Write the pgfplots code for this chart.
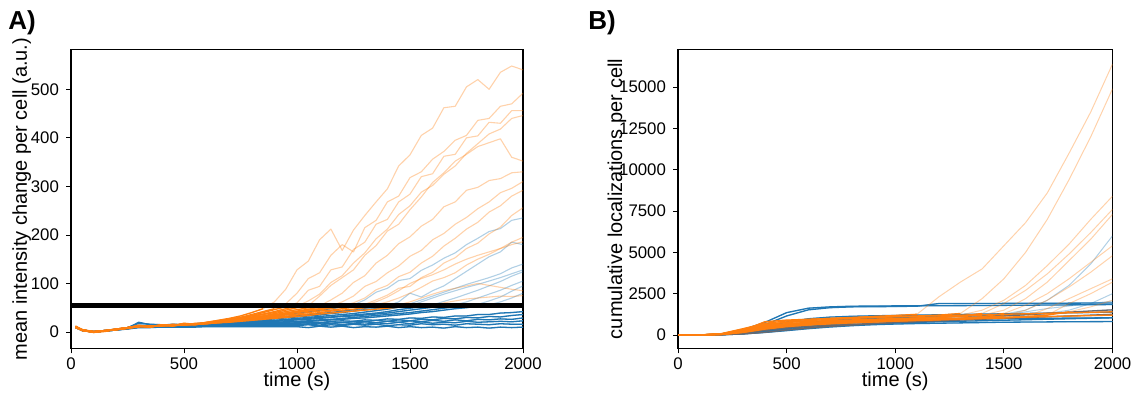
\documentclass[border=0pt]{standalone}
\usepackage{pgfplots}
\usepackage{pgfplotstable}
\pgfplotsset{compat=1.18}
\usepackage{fontspec}
\setmainfont{Liberation Sans}
\definecolor{tabblue}{RGB}{31,119,180}
\definecolor{taborange}{RGB}{255,127,14}
\definecolor{tabgray}{RGB}{105,105,110}

% Panel A: one row per cell, one column per time point
\pgfplotstableread{
name a0 a1 a2 a3 a4 a5 a6 a7 a8 a9 a10 a11 a12 a13 a14 a15 a16 a17 a18 a19 a20 a21 a22 a23 a24 a25 a26 a27 a28 a29 a30 a31 a32 a33 a34 a35 a36 a37 a38 a39 a40
t 20 50 100 150 200 250 300 350 400 450 500 550 600 650 700 750 800 850 900 950 1000 1050 1100 1150 1200 1250 1300 1350 1400 1450 1500 1550 1600 1650 1700 1750 1800 1850 1900 1950 2000
O1 12 3 -1 3 6 9 14 11 15 13 18 16 20 24 28 33 40 48 62 88 128 146 190 212 168 210 240 268 295 342 365 405 420 462 465 505 520 500 535 548 540
O2 10 4 1 2 5 8 12 10 14 12 16 15 19 22 26 30 36 42 48 58 80 110 122 158 180 165 215 230 268 280 318 330 356 372 395 405 436 440 465 470 492
O3 11 3 0 3 6 9 13 11 14 14 17 16 20 23 27 30 34 40 46 52 60 86 94 128 134 170 185 222 232 268 284 320 326 362 366 400 404 432 430 456 456
O4 9 4 0 2 5 8 12 12 13 15 15 17 18 22 25 29 33 37 42 48 53 64 78 102 116 142 163 192 212 242 260 288 302 325 342 368 388 408 418 440 446
O5 10 3 1 2 6 9 11 13 12 16 14 18 17 21 24 28 31 36 40 45 50 54 74 96 112 128 158 178 208 222 252 278 308 328 352 366 382 390 398 360 352
O6 12 5 0 3 4 8 13 10 15 13 16 15 18 20 23 26 30 33 38 42 46 50 54 66 80 102 116 142 158 182 196 218 232 258 268 292 298 312 316 328 330
O7 9 3 -1 1 5 7 11 11 13 14 15 16 17 19 22 25 28 32 35 39 43 47 51 54 62 74 94 104 122 136 156 168 190 203 222 236 254 268 287 296 310
O8 11 4 1 3 6 9 12 12 14 13 16 17 19 21 23 26 29 32 35 38 42 45 48 52 54 60 70 87 96 114 123 142 156 177 193 212 226 247 260 280 292
O9 10 3 0 2 5 8 11 12 12 14 15 15 18 20 21 24 27 30 33 36 40 43 46 49 52 54 57 66 76 90 94 112 123 142 153 172 183 202 216 240 256
O10 12 4 1 3 5 9 12 10 14 14 16 17 18 20 22 24 27 29 32 35 37 40 43 45 48 51 53 56 62 70 80 92 105 112 122 138 150 160 172 185 195
O11 10 3 0 2 6 8 12 11 13 15 14 16 17 19 21 23 25 27 30 32 35 37 40 43 45 47 50 52 54 56 62 70 78 85 90 95 100 96 92 88 85
O12 11 5 1 3 5 8 11 12 13 13 15 16 18 19 20 22 24 26 28 30 32 34 37 39 41 43 45 47 49 51 53 54 56 60 64 68 70 72 74 73 75
O13 9 4 0 2 5 9 12 11 14 13 16 16 19 21 24 27 30 33 36 39 42 45 47 50 52 54 56 62 72 85 100 110 118 128 140 150 158 165 172 180 186
B1 10 3 0 2 5 8 20 15 14 16 15 17 18 19 22 25 28 30 33 36 39 42 45 48 52 56 66 82 90 106 110 127 138 152 163 180 193 207 213 230 235
B2 11 4 1 3 6 9 18 16 15 14 16 17 18 20 21 22 24 27 30 32 34 36 38 40 43 46 49 52 54 62 80 72 85 95 110 125 140 155 165 185 180
B3 10 3 0 2 5 9 14 13 14 13 15 16 18 19 20 21 23 25 27 29 31 33 35 38 40 43 46 48 51 54 58 66 74 82 90 98 105 112 120 132 140
B4 9 3 1 3 5 8 12 12 14 14 14 15 16 18 19 20 21 23 24 26 28 30 32 34 36 38 41 44 47 51 54 62 70 78 85 92 98 105 112 120 128
B5 11 4 0 2 6 8 13 11 13 14 15 15 17 17 18 19 20 22 23 25 26 28 30 31 33 35 37 39 42 46 49 52 56 63 70 78 86 95 104 115 124
B6 10 3 0 3 5 8 12 12 13 12 14 15 16 17 17 18 19 21 22 23 25 26 28 30 32 33 35 37 39 42 45 48 51 53 56 62 70 78 86 96 105
B7 10 4 1 2 5 7 11 11 12 13 14 14 15 16 16 17 18 19 20 21 22 23 25 26 28 30 32 34 36 38 40 43 46 49 52 54 57 64 72 84 95
B8 11 3 0 2 4 8 12 11 13 12 13 14 15 15 16 17 18 18 19 20 21 22 23 25 26 28 29 31 33 35 37 40 42 45 48 50 53 56 62 70 80
B9 10 3 0 2 5 8 11 12 12 13 13 14 14 15 15 16 16 17 18 18 19 21 19 22 23 22 25 24 27 26 29 28 31 30 33 33 36 36 39 40 42
B10 9 4 1 3 5 7 10 11 12 12 13 13 14 14 15 15 16 16 17 17 18 20 18 21 19 22 21 24 22 25 23 26 25 28 27 30 29 32 31 34 36
B11 11 3 0 2 4 7 11 10 11 12 12 13 13 14 14 14 15 15 16 16 17 16 19 17 20 18 21 19 22 20 23 21 24 22 25 23 26 25 27 26 29
B12 10 3 0 2 5 7 10 10 11 11 12 12 12 13 13 13 14 14 14 15 15 17 14 18 15 18 16 19 17 20 17 21 18 20 19 22 20 21 22 21 23
B13 10 4 1 2 4 7 10 10 11 11 11 12 12 12 12 12 13 13 13 13 13 15 12 15 13 16 14 16 13 15 14 17 15 16 14 17 16 15 17 16 16
B14 9 3 0 2 4 6 9 9 10 10 10 10 11 11 11 11 11 11 11 11 11 9 12 10 12 9 11 10 12 9 11 9 10 8 11 9 10 8 10 9 10
}\rawA
\pgfplotstabletranspose[colnames from=name]{\tabA}{\rawA}

% Panel B: one row per cell, one column per time point
\pgfplotstableread{
name d0 d1 d2 d3 d4 d5 d6 d7 d8 d9 d10 d11 d12 d13 d14 d15 d16 d17 d18 d19 d20
t 0 100 200 300 400 500 600 700 800 900 1000 1100 1200 1300 1400 1500 1600 1700 1800 1900 2000
BB1 0 0 60 320 760 1350 1620 1700 1740 1750 1760 1765 1770 1775 1780 1790 1800 1810 1820 1830 1840
BB2 0 0 40 250 620 1150 1520 1650 1700 1710 1720 1740 1900 1900 1905 1910 1915 1920 1925 1930 1935
BB3 0 0 50 220 480 780 980 1080 1130 1160 1180 1200 1220 1240 1260 1280 1300 1320 1340 1360 1380
BB4 0 0 30 130 320 560 760 880 960 1010 1050 1090 1130 1170 1210 1260 1500 2100 3000 4300 6000
BB5 0 0 20 110 260 460 610 710 780 830 870 900 930 950 970 990 1000 1010 1020 1030 1040
BB6 0 0 10 60 150 260 380 480 560 620 660 690 710 730 750 770 780 790 800 805 810
BB7 0 0 30 150 350 560 700 800 870 930 980 1030 1080 1120 1160 1200 1250 1300 1500 1900 2500
BB8 0 0 20 90 220 380 520 630 720 790 850 900 950 990 1030 1200 1400 1600 1750 1900 2050
BB9 0 0 15 80 200 330 450 540 610 670 720 760 800 830 860 890 920 950 980 1010 1040
G1 0 0 10 60 160 300 420 520 600 680 760 840 920 1000 1080 1150 1220 1300 1380 1450 1520
G2 0 0 20 120 280 420 520 580 640 700 750 800 850 900 950 1000 1050 1100 1150 1200 1250
OB1 0 0 80 380 700 850 930 1000 1060 1120 1180 1250 2300 3200 4000 5400 6800 8600 11000 13500 16400
OB2 0 0 60 300 600 780 870 940 1000 1050 1100 1150 1200 1300 2200 3400 5000 7000 9400 12000 14900
OB3 0 0 50 260 520 680 760 820 870 920 970 1020 1080 1200 1500 2100 3000 4200 5500 7000 8400
OB4 0 0 40 220 460 620 720 790 850 900 950 1000 1050 1150 1300 1900 2700 3700 4900 6200 7600
OB5 0 0 70 340 640 760 820 870 910 950 990 1030 1070 1110 1200 1500 2200 3200 4500 5800 7300
OB6 0 0 30 180 400 560 660 730 790 840 880 920 960 1000 1100 1300 1800 2500 3400 4400 5400
OB7 0 0 50 240 480 620 700 760 810 850 890 930 970 1010 1060 1150 1500 2100 2900 3800 4800
OB8 0 0 20 150 350 500 600 670 730 780 830 870 910 950 990 1030 1100 1600 2200 2800 3400
OB9 0 0 40 200 420 560 650 720 770 820 860 900 940 980 1020 1060 1100 1200 1900 2500 3200
OB10 0 0 30 170 380 530 620 690 750 800 850 890 930 970 1010 1050 1100 1200 1400 1700 2100
OB11 0 0 60 300 560 680 740 790 830 870 900 930 960 990 1020 1050 1080 1110 1140 1170 1200
OB12 0 0 50 280 800 900 950 1000 1040 1070 1100 1130 1160 1190 1220 1250 1280 1310 1340 1370 1400
}\rawB
\pgfplotstabletranspose[colnames from=name]{\tabB}{\rawB}

% faded whole trace, then opaque part before the threshold crossing
\newcommand{\cellA}[3]{%
  \addplot[#1, line width=0.55pt, opacity=0.35] table[x=t, y=#2] {\tabA};
  \addplot[#1, line width=0.65pt, restrict x to domain=0:#3] table[x=t, y=#2] {\tabA};
}
\newcommand{\cellB}[3]{%
  \addplot[#1, line width=0.5pt, opacity=0.35] table[x=t, y=#2] {\tabB};
  \addplot[#1, line width=0.65pt, restrict x to domain=0:#3] table[x=t, y=#2] {\tabB};
}

\pgfplotsset{
  panel/.style={
    scale only axis, anchor=south west,
    height=149.5pt,
    xmin=0, xmax=2000, xtick={0,500,1000,1500,2000},
    tick align=outside, xtick pos=bottom, ytick pos=left,
    major tick length=2.5pt,
    tick style={black, line width=0.4pt},
    axis line style={black, line width=0.6pt},
    ticklabel style={font=\fontsize{8.4}{10}\selectfont},
    label style={font=\fontsize{9.6}{11}\selectfont},
    /pgf/number format/assume math mode=true,
    scaled ticks=false,
    yticklabel style={/pgf/number format/1000 sep={}},
    xticklabel style={/pgf/number format/1000 sep={}, yshift=1.5pt},
    every axis x label/.style={at={(axis description cs:0.5,0)}, anchor=center, yshift=-16.5pt},
    xlabel={time (s)},
    every axis plot/.append style={line join=round, mark=none},
  }
}

\begin{document}
\begin{tikzpicture}
\useasboundingbox (0,0) rectangle (568pt,197pt);

\begin{axis}[panel, at={(35.5pt,22.75pt)}, width=226pt,
  ymin=-34, ymax=582, ytick={0,100,200,300,400,500},
  every axis y label/.style={at={(axis description cs:0,0.5)}, xshift=-24.6pt, rotate=90, anchor=center},
  ylabel={mean intensity change per cell (a.u.)}]
\cellA{tabblue}{B1}{1200}
\cellA{tabblue}{B2}{1400}
\cellA{tabblue}{B3}{1450}
\cellA{tabblue}{B4}{1500}
\cellA{tabblue}{B5}{1550}
\cellA{tabblue}{B6}{1650}
\cellA{tabblue}{B7}{1750}
\cellA{tabblue}{B8}{1850}
\cellA{tabblue}{B9}{2000}
\cellA{tabblue}{B10}{2000}
\cellA{tabblue}{B11}{2000}
\cellA{tabblue}{B12}{2000}
\cellA{tabblue}{B13}{2000}
\cellA{tabblue}{B14}{2000}
\cellA{taborange}{O1}{850}
\cellA{taborange}{O2}{900}
\cellA{taborange}{O3}{950}
\cellA{taborange}{O4}{1000}
\cellA{taborange}{O5}{1050}
\cellA{taborange}{O6}{1100}
\cellA{taborange}{O7}{1150}
\cellA{taborange}{O8}{1200}
\cellA{taborange}{O9}{1250}
\cellA{taborange}{O10}{1300}
\cellA{taborange}{O11}{1400}
\cellA{taborange}{O12}{1550}
\cellA{taborange}{O13}{1250}
\addplot[black, line width=2.3pt] coordinates {(0,55) (2000,55)};
\end{axis}

\begin{axis}[panel, at={(339pt,22.75pt)}, width=217.25pt,
  ymin=-820, ymax=17280, ytick={0,2500,5000,7500,10000,12500,15000},
  every axis y label/.style={at={(axis description cs:0,0.5)}, xshift=-30.5pt, rotate=90, anchor=center},
  ylabel={cumulative localizations per cell}]
\cellB{tabblue}{BB1}{2000}
\cellB{tabblue}{BB2}{2000}
\cellB{tabblue}{BB3}{2000}
\cellB{tabblue}{BB4}{1500}
\cellB{tabblue}{BB5}{2000}
\cellB{tabblue}{BB6}{2000}
\cellB{tabblue}{BB7}{1700}
\cellB{tabblue}{BB8}{1400}
\cellB{tabblue}{BB9}{2000}
\cellB{tabgray}{G1}{2000}
\cellB{tabgray}{G2}{2000}
\cellB{taborange}{OB1}{1100}
\cellB{taborange}{OB2}{1300}
\cellB{taborange}{OB3}{1300}
\cellB{taborange}{OB4}{1400}
\cellB{taborange}{OB5}{1400}
\cellB{taborange}{OB6}{1500}
\cellB{taborange}{OB7}{1500}
\cellB{taborange}{OB8}{1600}
\cellB{taborange}{OB9}{1700}
\cellB{taborange}{OB10}{1800}
\cellB{taborange}{OB11}{2000}
\cellB{taborange}{OB12}{2000}
\end{axis}

\node[anchor=north west, inner sep=0pt, font=\bfseries\fontsize{13}{15}\selectfont] at (4pt,192pt) {A)};
\node[anchor=north west, inner sep=0pt, font=\bfseries\fontsize{13}{15}\selectfont] at (294pt,192pt) {B)};
\end{tikzpicture}
\end{document}
